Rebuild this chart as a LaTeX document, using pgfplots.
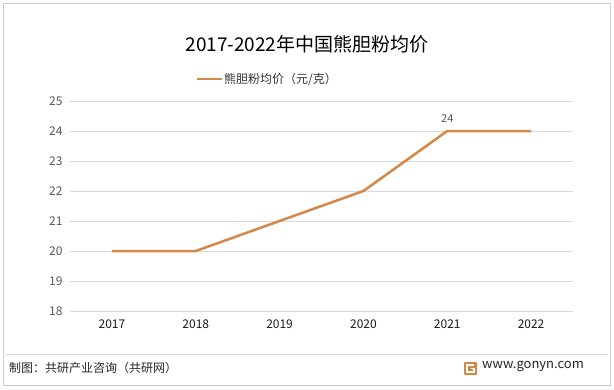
\documentclass[border=0pt]{standalone}
\usepackage{pgfplots}
\pgfplotsset{compat=1.18}
\usepackage{fontspec}
\setmainfont{Noto Sans CJK SC}
\definecolor{lineor}{RGB}{212,136,72}
\definecolor{tickgray}{RGB}{89,89,89}
\definecolor{gridgray}{RGB}{217,217,217}
\begin{document}
\begin{tikzpicture}[x=1pt,y=1pt]
\fill[white] (0,0) rectangle (614,389);
\draw[gray!40, line width=1pt] (3.5,3.5) rectangle (610.5,385.5);
% title
\node[font=\fontsize{19}{22}\selectfont, text=black] at (307,389-44) {2017-2022年中国熊胆粉均价};
% legend
\draw[lineor, line width=2.5pt] (197,389-79) -- (222,389-79);
\node[anchor=west, font=\fontsize{12}{14}\selectfont, text=black!80, inner sep=0pt] at (224,389-79) {熊胆粉均价（元/克）};
\begin{axis}[
  at={(70pt,78pt)}, anchor=south west,
  scale only axis, width=503pt, height=210pt,
  xmin=-0.5, xmax=5.5, ymin=18, ymax=25,
  xtick={0,1,2,3,4,5},
  xticklabels={2017,2018,2019,2020,2021,2022},
  ytick={18,19,20,21,22,23,24,25},
  ymajorgrids, grid style={gridgray, line width=0.8pt},
  axis line style={draw=none},
  major tick length=0pt,
  tick label style={font=\fontsize{12}{14}\selectfont},
  xticklabel style={text=black!90, yshift=-5pt},
  yticklabel style={text=tickgray, xshift=-4pt},
  /pgf/number format/assume math mode=true,
  clip=false,
]
\addplot[lineor, line width=2.5pt, line join=round] coordinates {(0,20) (1,20) (2,21) (3,22) (4,24) (5,24)};
\node[font=\fontsize{11}{13}\selectfont, text=tickgray, anchor=south] at (axis cs:4,24) [yshift=5pt] {24};
\end{axis}
% footer
\draw[gridgray, line width=0.8pt] (6,389-354) -- (607,389-354);
\node[anchor=west, font=\fontsize{12}{14}\selectfont, text=black!85, inner sep=0pt] at (9,389-368) {制图：共研产业咨询（共研网）};
\fill[lineor, rounded corners=1pt] (464,389-375) rectangle (477,389-362);
\draw[white, line width=1.2pt] (474,389-365) -- (467,389-365) -- (467,389-372) -- (474,389-372) -- (474,389-368.5) -- (471,389-368.5);
\node[anchor=west, font=\fontsize{13}{15}\selectfont, text=black!85, inner sep=0pt] at (482,389-367) {www.gonyn.com};
\end{tikzpicture}
\end{document}
